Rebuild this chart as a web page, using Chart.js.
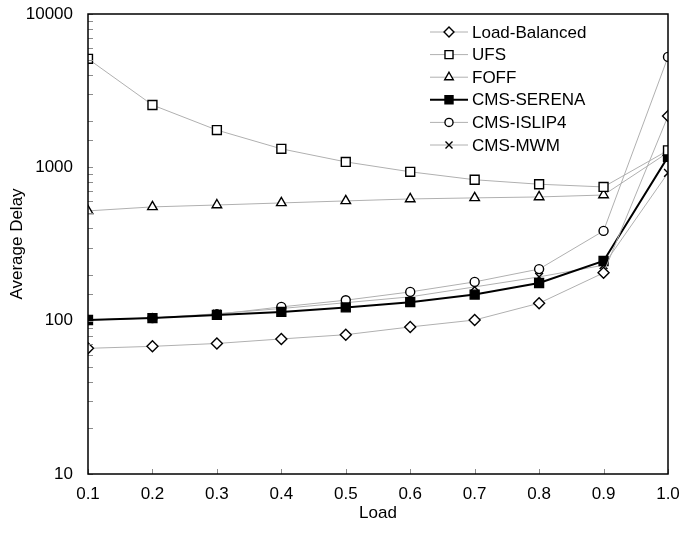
<!DOCTYPE html>
<html>
<head>
<meta charset="utf-8">
<script src="https://cdn.jsdelivr.net/npm/chart.js@4"></script>
<style>
    html, body { margin: 0; padding: 0; background: #ffffff; }
    #wrap { width: 681px; height: 534px; }
</style>
</head>
<body>
<div id="wrap"><canvas id="delayChart" width="681" height="534"></canvas></div>
<script>
// ======================================
// Data
// ======================================

const loads = [0.1, 0.2, 0.3, 0.4, 0.5, 0.6, 0.7, 0.8, 0.9, 1.0];

const loadBalanced = [66, 68, 71, 76, 81, 91, 101, 130, 205, 2160];
const ufs = [5100, 2550, 1750, 1320, 1085, 935, 830, 776, 745, 1290];
const foff = [520, 552, 568, 586, 604, 622, 632, 641, 660, 1250];
const cmsSerena = [101, 104, 109, 114, 122, 132, 148, 176, 245, 1170];
const cmsIslip4 = [101, 104, 110, 123, 136, 154, 179, 217, 385, 5250];
const cmsMwm = [101, 104, 111, 120, 131, 143, 166, 193, 230, 920];

const yTickLabels = [10, 100, 1000, 10000];

// ======================================
// Styles
// ======================================

const fontFamily = "'Liberation Sans', Arial, sans-serif";
const fontSize = 17;
const grey = "#b0b0b0";
const black = "#000000";

const radii = {
    rectRot: 5.5,
    rect: 6.3,
    triangle: 5.5,
    circle: 4.5,
    crossRot: 5.5
};

function series(label, values, style, filled, bold) {

    return {
        label: label,
        data: loads.map((x, i) => ({ x: x, y: values[i] })),
        borderColor: bold ? black : grey,
        borderWidth: bold ? 2 : 1,
        pointStyle: style,
        pointRadius: radii[style],
        pointBorderColor: black,
        pointBorderWidth: 1.4,
        pointBackgroundColor: filled ? black : "#ffffff",
        fill: false,
        tension: 0
    };

}

// ======================================
// Frame, inner ticks and legend
// ======================================

const framePlugin = {

    id: "frame",

    afterDraw(chart) {

        const ctx = chart.ctx;
        const area = chart.chartArea;
        const xs = chart.scales.x;
        const ys = chart.scales.y;

        ctx.save();

        // inner ticks
        ctx.strokeStyle = "#8c8c8c";
        ctx.lineWidth = 1;
        ctx.beginPath();
        ys.ticks.forEach(t => {
            const py = Math.round(ys.getPixelForValue(t.value)) + 0.5;
            ctx.moveTo(area.left, py);
            ctx.lineTo(area.left + 5, py);
        });
        xs.ticks.forEach(t => {
            const px = Math.round(xs.getPixelForValue(t.value)) + 0.5;
            ctx.moveTo(px, area.bottom);
            ctx.lineTo(px, area.bottom - 5);
        });
        ctx.stroke();

        // frame
        ctx.strokeStyle = black;
        ctx.lineWidth = 1.5;
        ctx.strokeRect(area.left, area.top, area.right - area.left, area.bottom - area.top);

        // legend
        const lx = 430;
        const ly = 32;
        const rowH = 22.6;
        ctx.font = fontSize + "px " + fontFamily;
        ctx.textBaseline = "middle";

        chart.data.datasets.forEach((ds, i) => {
            const y = ly + i * rowH;
            ctx.strokeStyle = ds.borderColor;
            ctx.lineWidth = ds.borderWidth;
            ctx.beginPath();
            ctx.moveTo(lx, y);
            ctx.lineTo(lx + 38, y);
            ctx.stroke();
            ctx.strokeStyle = black;
            ctx.fillStyle = ds.pointBackgroundColor;
            ctx.lineWidth = ds.pointBorderWidth;
            Chart.helpers.drawPoint(ctx, {
                pointStyle: ds.pointStyle,
                radius: ds.pointRadius * 0.9,
                rotation: 0,
                borderWidth: ds.pointBorderWidth
            }, lx + 19, y);
            ctx.fillStyle = black;
            ctx.fillText(ds.label, lx + 42, y + 1);
        });

        ctx.restore();

    }

};

// ======================================
// Chart
// ======================================

new Chart(document.getElementById("delayChart"), {

    type: "line",

    data: {
        datasets: [
            series("Load-Balanced", loadBalanced, "rectRot", false, false),
            series("UFS", ufs, "rect", false, false),
            series("FOFF", foff, "triangle", false, false),
            series("CMS-SERENA", cmsSerena, "rect", true, true),
            series("CMS-ISLIP4", cmsIslip4, "circle", false, false),
            series("CMS-MWM", cmsMwm, "crossRot", false, false)
        ]
    },

    plugins: [framePlugin],

    options: {

        responsive: false,
        animation: false,

        layout: {
            padding: { left: 0, right: 13, top: 14, bottom: 0 }
        },

        plugins: {
            legend: { display: false },
            tooltip: { enabled: false }
        },

        scales: {

            x: {
                type: "linear",
                min: 0.1,
                max: 1.0,
                grid: { display: false },
                border: { display: false },
                ticks: {
                    stepSize: 0.1,
                    color: black,
                    padding: 2,
                    font: { family: fontFamily, size: fontSize },
                    callback: v => v.toFixed(1)
                },
                title: {
                    display: true,
                    text: "Load",
                    color: black,
                    padding: { top: 2, bottom: 10 },
                    font: { family: fontFamily, size: fontSize }
                },
                afterFit: s => {
                    s.height = 60;
                    s.paddingLeft = 0;
                    s.paddingRight = 0;
                }
            },

            y: {
                type: "logarithmic",
                min: 10,
                max: 10000,
                grid: { display: false },
                border: { display: false },
                ticks: {
                    autoSkip: false,
                    color: black,
                    padding: 7,
                    font: { family: fontFamily, size: fontSize },
                    callback: v => yTickLabels.includes(v) ? String(v) : ""
                },
                title: {
                    display: true,
                    text: "Average Delay",
                    color: black,
                    padding: { top: 7, bottom: 0 },
                    font: { family: fontFamily, size: fontSize }
                },
                afterFit: s => {
                    s.width = 88;
                    s.paddingTop = 0;
                    s.paddingBottom = 0;
                }
            }

        }

    }

});
</script>
</body>
</html>
